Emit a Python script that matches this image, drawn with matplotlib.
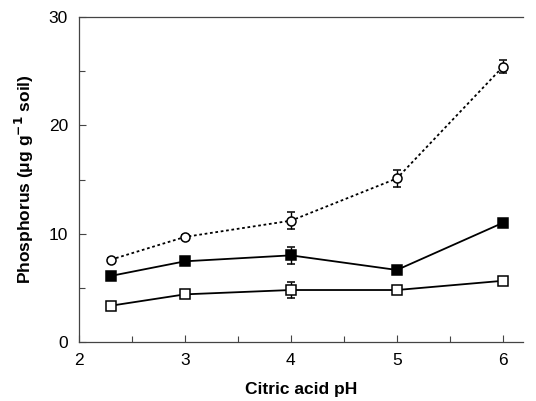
import numpy as np
import matplotlib.pyplot as plt
from matplotlib.ticker import MultipleLocator

plt.rcParams['font.family'] = ['Liberation Sans', 'DejaVu Sans']

ph = [2.3, 3, 4, 5, 6]
open_circle = [7.6, 9.7, 11.2, 15.1, 25.4]
open_circle_err = [0.2, 0.2, 0.8, 0.75, 0.6]
filled_square = [6.1, 7.45, 8.0, 6.65, 11.0]
filled_square_err = [0.2, 0.2, 0.8, 0.2, 0.2]
open_square = [3.35, 4.4, 4.8, 4.8, 5.65]
open_square_err = [0.2, 0.2, 0.7, 0.2, 0.2]

fig = plt.figure(figsize=(5.36, 4.01), dpi=100)
ax = fig.add_axes([0.1474, 0.1471, 0.8283, 0.8105])

kw = dict(color="black", ecolor="black", elinewidth=1, capsize=3, capthick=1,
          markersize=6.5, markeredgewidth=1.1, lw=1.3)
ax.errorbar(ph, open_circle, yerr=open_circle_err, fmt="o", ls=(0, (1.5, 1.5)),
            markerfacecolor="white", markeredgecolor="black", **kw)
ax.errorbar(ph, filled_square, yerr=filled_square_err, fmt="s", ls="-",
            markerfacecolor="black", markeredgecolor="black", **kw)
ax.errorbar(ph, open_square, yerr=open_square_err, fmt="s", ls="-",
            markerfacecolor="white", markeredgecolor="black", **kw)

ax.set_xlim(2, 6.19)
ax.set_ylim(0, 30)
ax.xaxis.set_major_locator(MultipleLocator(1))
ax.xaxis.set_minor_locator(MultipleLocator(0.5))
ax.yaxis.set_major_locator(MultipleLocator(10))
ax.yaxis.set_minor_locator(MultipleLocator(5))
ax.tick_params(which="both", direction="in", labelsize=12.5, width=0.8, color="#444444")
ax.tick_params(which="major", length=5)
ax.tick_params(axis="x", which="major", pad=8)
ax.tick_params(axis="y", which="major", pad=8)
ax.tick_params(which="minor", length=4)
ax.spines["right"].set_visible(False)
for s in ["left", "top", "bottom"]:
    ax.spines[s].set_linewidth(0.9)
    ax.spines[s].set_color("#444444")

ax.set_xlabel("Citric acid pH", fontsize=12.5, fontweight="bold", labelpad=10)
ax.set_ylabel("Phosphorus (\u03bcg g$^{\\mathbf{-1}}$ soil)", fontsize=12.5,
              fontweight="bold", labelpad=9)

fig.savefig("out.png", dpi=100)
